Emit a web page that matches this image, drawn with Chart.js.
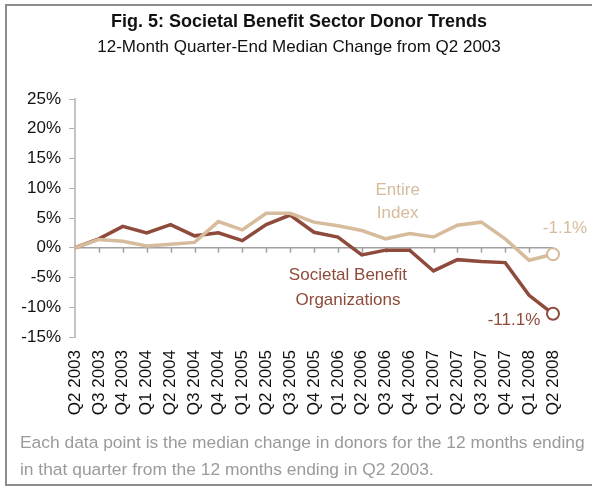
<!DOCTYPE html>
<html><head><meta charset="utf-8">
<script src="https://cdn.jsdelivr.net/npm/chart.js@4/dist/chart.umd.min.js"></script>
<style>html,body{margin:0;padding:0;background:#fff}#wrap{position:relative;width:592px;height:487px}</style>
</head><body><div id="wrap"><canvas id="c" width="592" height="487"></canvas></div>
<script>
const categories = ['Q2 2003','Q3 2003','Q4 2003','Q1 2004','Q2 2004','Q3 2004','Q4 2004','Q1 2005','Q2 2005','Q3 2005','Q4 2005','Q1 2006','Q2 2006','Q3 2006','Q4 2006','Q1 2007','Q2 2007','Q3 2007','Q4 2007','Q1 2008','Q2 2008'];
const societalBenefit = [0, 1.5, 3.6, 2.5, 3.9, 2.0, 2.5, 1.2, 3.9, 5.5, 2.6, 1.8, -1.2, -0.4, -0.4, -3.9, -2.0, -2.3, -2.5, -8.0, -11.1];
const entireIndex = [0, 1.4, 1.1, 0.3, 0.6, 0.9, 4.4, 3.0, 5.8, 5.8, 4.3, 3.7, 2.9, 1.5, 2.4, 1.8, 3.8, 4.3, 1.5, -2.1, -1.1];
const yTickValues = [-15, -10, -5, 0, 5, 10, 15, 20, 25];
const titleText = 'Fig. 5: Societal Benefit Sector Donor Trends';
const subtitleText = '12-Month Quarter-End Median Change from Q2 2003';
const footerLines = ['Each data point is the median change in donors for the 12 months ending', 'in that quarter from the 12 months ending in Q2 2003.'];

const FONT = "'Liberation Sans', Arial, sans-serif";
const DARK = '#8E4B3B';
const LIGHT = '#D6BC9C';
const last = categories.length - 1;

const decor = {
  id: 'decor',
  beforeDraw(chart) {
    const ctx = chart.ctx;
    ctx.save();
    ctx.fillStyle = '#fff';
    ctx.fillRect(0, 0, chart.width, chart.height);
    ctx.strokeStyle = '#8c8c8c';
    ctx.lineWidth = 2;
    ctx.strokeRect(6, 5, 600, 480);
    ctx.fillStyle = '#111';
    ctx.textAlign = 'center';
    ctx.textBaseline = 'middle';
    ctx.font = 'bold 18px ' + FONT;
    ctx.fillText(titleText, 299, 22);
    ctx.font = '17px ' + FONT;
    ctx.fillText(subtitleText, 299, 47);
    ctx.fillStyle = '#9a9a9a';
    ctx.textAlign = 'left';
    ctx.font = '17.4px ' + FONT;
    ctx.fillText(footerLines[0], 20, 443);
    ctx.fillText(footerLines[1], 20, 470);
    ctx.restore();
  },
  beforeDatasetsDraw(chart) {
    const ctx = chart.ctx, x = chart.scales.x, y = chart.scales.y;
    const y0 = y.getPixelForValue(0);
    ctx.save();
    ctx.strokeStyle = '#a0a0a0';
    ctx.lineWidth = 1.5;
    ctx.beginPath();
    ctx.moveTo(x.getPixelForValue(0), y0);
    ctx.lineTo(x.getPixelForValue(last), y0);
    for (let i = 1; i <= last; i++) {
      const px = Math.round(x.getPixelForValue(i)) + 0.5;
      ctx.moveTo(px, y0);
      ctx.lineTo(px, y0 + 5);
    }
    ctx.stroke();
    ctx.restore();
  },
  afterDatasetsDraw(chart) {
    const ctx = chart.ctx, x = chart.scales.x, y = chart.scales.y;
    ctx.save();
    ctx.font = '17px ' + FONT;
    ctx.textAlign = 'center';
    ctx.textBaseline = 'middle';
    ctx.fillStyle = LIGHT;
    ctx.fillText('Entire', x.getPixelForValue(13.5), y.getPixelForValue(9.7));
    ctx.fillText('Index', x.getPixelForValue(13.5), y.getPixelForValue(5.8));
    ctx.fillText('-1.1%', x.getPixelForValue(last) + 12, y.getPixelForValue(entireIndex[last]) - 26);
    ctx.fillStyle = DARK;
    ctx.fillText('Societal Benefit', x.getPixelForValue(11.42), y.getPixelForValue(-4.7));
    ctx.fillText('Organizations', x.getPixelForValue(11.42), y.getPixelForValue(-8.9));
    ctx.fillText('-11.1%', x.getPixelForValue(last) - 39, y.getPixelForValue(societalBenefit[last]) + 7);
    ctx.restore();
  }
};

const ptRadius = c => c.dataIndex === last ? 6 : 0;

new Chart(document.getElementById('c'), {
  type: 'line',
  data: {
    labels: categories,
    datasets: [
      { label: 'Entire Index', data: entireIndex, borderColor: LIGHT, backgroundColor: '#fff', borderWidth: 3.5,
        pointRadius: ptRadius, pointBorderWidth: 2, pointBackgroundColor: '#fff', pointBorderColor: LIGHT, tension: 0, clip: false },
      { label: 'Societal Benefit Organizations', data: societalBenefit, borderColor: DARK, backgroundColor: '#fff', borderWidth: 3.5,
        pointRadius: ptRadius, pointBorderWidth: 2, pointBackgroundColor: '#fff', pointBorderColor: DARK, tension: 0, clip: false }
    ]
  },
  options: {
    responsive: false,
    animation: false,
    devicePixelRatio: 1,
    layout: { padding: { left: 0, right: 39, top: 99, bottom: 0 } },
    plugins: { legend: { display: false }, tooltip: { enabled: false }, title: { display: false } },
    scales: {
      x: {
        type: 'category',
        offset: false,
        grid: { display: false },
        border: { display: false },
        ticks: { minRotation: 90, maxRotation: 90, autoSkip: false, padding: 5, color: '#111', font: { family: FONT, size: 17 } },
        afterFit(s) { s.height = 150; }
      },
      y: {
        min: -15, max: 25,
        afterBuildTicks(s) { s.ticks = yTickValues.map(v => ({ value: v })); },
        grid: { display: true, drawOnChartArea: false, drawTicks: true, tickLength: 6, color: '#b0b0b0', lineWidth: 1 },
        border: { display: true, color: '#c4c4c4', width: 2 },
        ticks: { padding: 8, color: '#111', font: { family: FONT, size: 17 }, callback: v => v + '%' },
        afterFit(s) { s.width = 75; }
      }
    }
  },
  plugins: [decor]
});
</script></body></html>
